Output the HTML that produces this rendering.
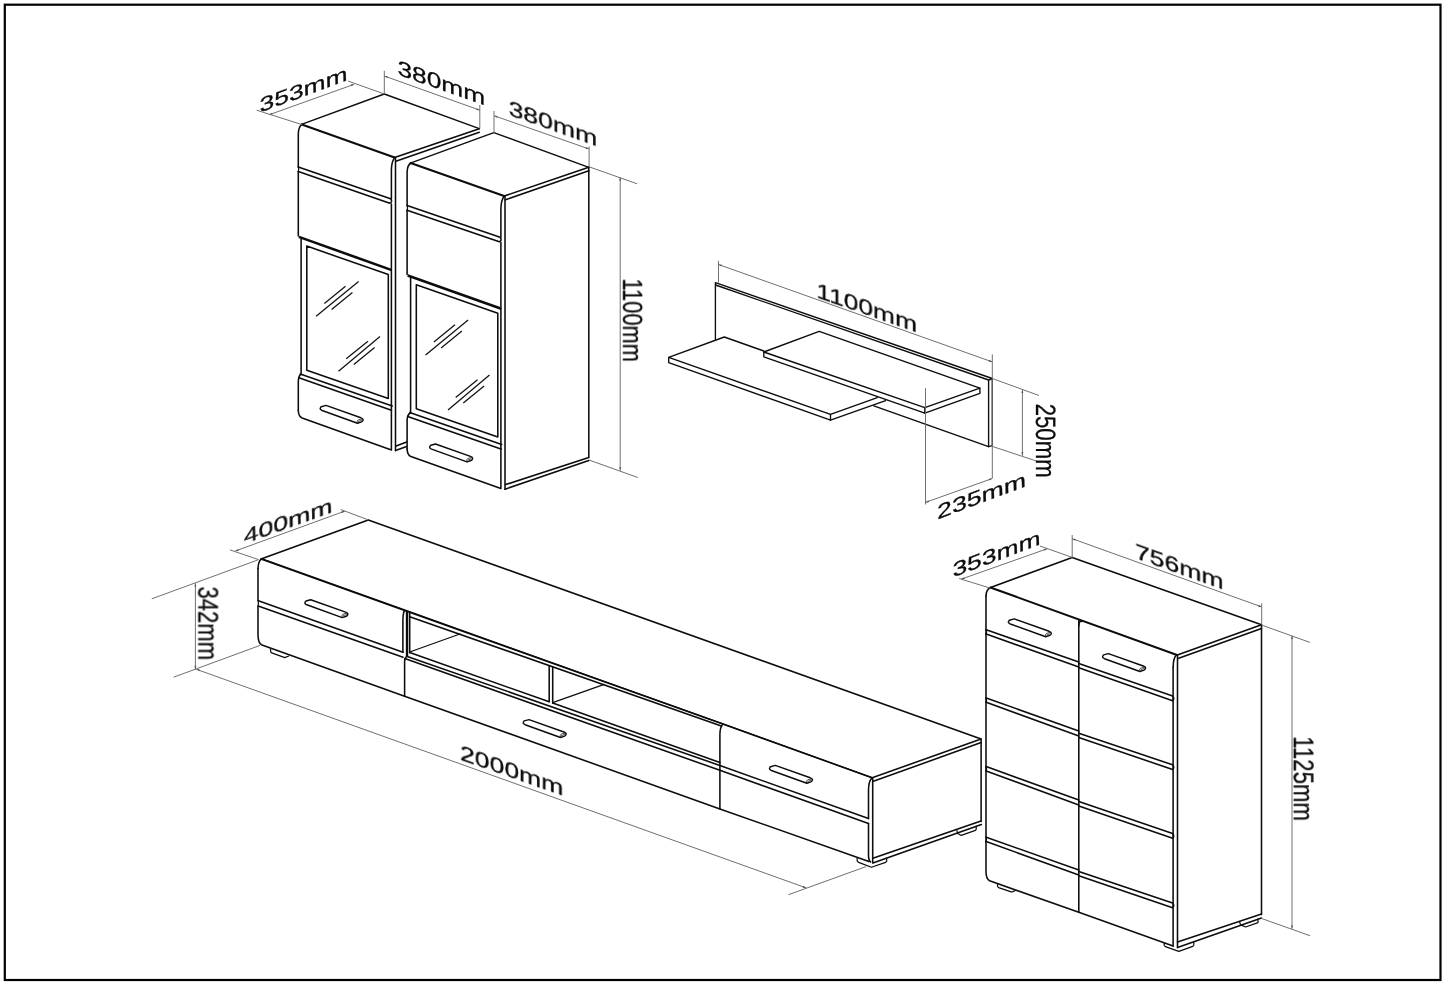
<!DOCTYPE html>
<html lang="en">
<head>
<meta charset="utf-8">
<title>Furniture set dimensions</title>
<style>
html,body{margin:0;padding:0;background:#fff;}
body{width:1445px;height:985px;overflow:hidden;}
svg{display:block;}
.m{fill:none;stroke:#0c0c0c;stroke-width:1.55;stroke-linecap:round;stroke-linejoin:round;}
.k2{fill:none;stroke:#0c0c0c;stroke-width:2.6;stroke-linecap:butt;}
.k{fill:none;stroke:#0c0c0c;stroke-width:2.1;stroke-linecap:round;}
.n{fill:none;stroke:#0c0c0c;stroke-width:1.4;stroke-linecap:round;stroke-linejoin:round;}
.sh .m{stroke-width:1.35;}
.t{fill:none;stroke:#0c0c0c;stroke-width:1.25;stroke-linecap:round;}
.h{fill:#fff;stroke:#0c0c0c;stroke-width:1.45;stroke-linejoin:round;stroke-linecap:round;}
.h2{fill:none;stroke:#222;stroke-width:0.8;stroke-linejoin:round;stroke-linecap:round;}
.ft{fill:none;stroke:#0c0c0c;stroke-width:1.2;stroke-linejoin:round;stroke-linecap:round;}
.g{fill:none;stroke:#111;stroke-width:1.25;stroke-linecap:butt;}
.d{fill:none;stroke:#707070;stroke-width:1.0;}
.a{fill:#555;stroke:none;}
.w{fill:#fff;stroke:none;}
.fr{fill:none;stroke:#000;stroke-width:2.2;}
text{font-family:"Liberation Sans",Arial,Helvetica,sans-serif;font-size:20px;fill:#0a0a0a;stroke:#0a0a0a;stroke-width:0.15;stroke-linejoin:round;text-rendering:geometricPrecision;}
text.s{stroke-width:0.26;}
text.v{stroke-width:0.2;}
.lb{opacity:0.99;}
</style>
</head>
<body>
<svg width="1445" height="985" viewBox="0 0 1445 985">
<rect x="0" y="0" width="1445" height="985" fill="#ffffff"/>
<rect class="fr" x="4.8" y="4.7" width="1435.7" height="975.3"/>
<polyline class="n" points="302.2,124.2 384.3,94 479.3,128.7"/>
<line class="k" x1="301.8" y1="124.4" x2="394.6" y2="157.5"/>
<path class="m" d="M302.2,124.4 Q298.6,126.2 298.3,133.5 L298.3,166.9"/>
<path class="t" d="M298.3,166.9 Q299.2,169.3 298.3,171.6"/>
<line class="m" x1="298.3" y1="171.6" x2="298.3" y2="236"/>
<path class="m" d="M394.3,158.1 Q391.7,161.6 391.4,169.5 L391.4,198.72"/>
<line class="m" x1="391.4" y1="204.02" x2="391.4" y2="268.42"/>
<line class="m" x1="394.6" y1="157.5" x2="479.3" y2="128.7"/>
<line class="m" x1="395.9" y1="161.2" x2="479.3" y2="132.2"/>
<line class="m" x1="395.5" y1="158" x2="395.5" y2="450.6"/>
<path class="m" d="M298.3,166.9 L390.6,198.74 Q393,201.82 389.8,203.17 L298.3,171.6"/>
<line class="k2" x1="298.9" y1="236.9" x2="391.8" y2="270.1"/>
<line class="m" x1="301.1" y1="238.6" x2="301.1" y2="374.6"/>
<line class="m" x1="391.4" y1="270" x2="391.4" y2="410.3"/>
<polygon class="m" points="306.8,246.1 388.3,274.6 388.3,398.4 306.8,370.2"/>
<line class="m" x1="300.2" y1="374" x2="392.2" y2="406"/>
<path class="m" d="M300.6,374.4 Q298.5,376.4 298.3,381.5 L298.3,410.5"/>
<path class="m" d="M298.9,377.8 L391.4,410.3"/>
<path class="m" d="M298.3,410.5 Q298.5,416.4 302.1,418 L391.4,450 L391.4,410.3"/>
<g transform="translate(0 0)">
<path class="h" d="M321.3,406.7 L326,405.4 L360.9,417.8 Q363.5,418.9 363.1,420 Q362.9,421.4 361.6,421.9 L357.5,423.3 L322.1,410.5 Q319.4,409.4 320.5,407.6 Q320.8,407 321.3,406.7 Z"/>
<path class="h2" d="M357.5,423.3 Q356.6,420.4 358.2,419.9 L362.6,418.7"/>
<path class="h2" d="M358.6,421.4 L361.6,420.3"/>
</g>
<line class="g" x1="324.4" y1="303.4" x2="345.5" y2="286.2"/>
<line class="g" x1="316.1" y1="316.3" x2="358.6" y2="281.4"/>
<line class="g" x1="331.6" y1="309.4" x2="352.4" y2="292.4"/>
<line class="g" x1="346.2" y1="358.8" x2="368" y2="341.2"/>
<line class="g" x1="338.5" y1="371.3" x2="380" y2="336.4"/>
<line class="g" x1="353.8" y1="364.4" x2="374.6" y2="347.4"/>
<line class="m" x1="395.5" y1="450.6" x2="408" y2="446"/>
<line class="m" x1="396.1" y1="446" x2="408" y2="441.6"/>
<g transform="translate(109.5 38.6)">
<polygon class="w" points="297.6,126 301.5,124.2 384.3,94 479.3,128.7 479.3,422 395.5,450.6 297.6,417"/>
<polyline class="n" points="301.5,124.2 384.3,94 479.3,128.7"/>
<line class="k" x1="301.1" y1="124.4" x2="394.6" y2="157.5"/>
<path class="m" d="M301.5,124.4 Q297.9,126.2 297.6,133.5 L297.6,166.9"/>
<path class="t" d="M297.6,166.9 Q298.5,169.3 297.6,171.6"/>
<line class="m" x1="297.6" y1="171.6" x2="297.6" y2="236"/>
<path class="m" d="M394.3,158.1 Q391.7,161.6 391.4,169.5 L391.4,198.72"/>
<line class="m" x1="391.4" y1="204.02" x2="391.4" y2="268.42"/>
<line class="m" x1="394.6" y1="157.5" x2="479.3" y2="128.7"/>
<line class="m" x1="395.9" y1="161.2" x2="479.3" y2="132.2"/>
<line class="m" x1="395.5" y1="158" x2="395.5" y2="450.6"/>
<path class="m" d="M297.6,166.9 L390.6,198.74 Q393,201.82 389.8,203.17 L297.6,171.6"/>
<line class="k2" x1="298.2" y1="236.9" x2="391.8" y2="270.1"/>
<line class="m" x1="301.1" y1="238.6" x2="301.1" y2="374.6"/>
<line class="m" x1="391.4" y1="270" x2="391.4" y2="410.3"/>
<polygon class="m" points="306.8,246.1 388.3,274.6 388.3,398.4 306.8,370.2"/>
<line class="m" x1="300.2" y1="374" x2="392.2" y2="406"/>
<path class="m" d="M300.6,374.4 Q297.8,376.4 297.6,381.5 L297.6,410.5"/>
<path class="m" d="M298.2,377.8 L391.4,410.3"/>
<path class="m" d="M297.6,410.5 Q297.8,416.4 301.4,418 L391.4,450 L391.4,410.3"/>
<g transform="translate(0 0)">
<path class="h" d="M321.3,406.7 L326,405.4 L360.9,417.8 Q363.5,418.9 363.1,420 Q362.9,421.4 361.6,421.9 L357.5,423.3 L322.1,410.5 Q319.4,409.4 320.5,407.6 Q320.8,407 321.3,406.7 Z"/>
<path class="h2" d="M357.5,423.3 Q356.6,420.4 358.2,419.9 L362.6,418.7"/>
<path class="h2" d="M358.6,421.4 L361.6,420.3"/>
</g>
<line class="g" x1="324.4" y1="303.4" x2="345.5" y2="286.2"/>
<line class="g" x1="316.1" y1="316.3" x2="358.6" y2="281.4"/>
<line class="g" x1="331.6" y1="309.4" x2="352.4" y2="292.4"/>
<line class="g" x1="346.2" y1="358.8" x2="368" y2="341.2"/>
<line class="g" x1="338.5" y1="371.3" x2="380" y2="336.4"/>
<line class="g" x1="353.8" y1="364.4" x2="374.6" y2="347.4"/>
<line class="m" x1="479.3" y1="128.7" x2="479.3" y2="418.4"/>
<line class="m" x1="395.5" y1="450.6" x2="479.3" y2="422"/>
<line class="m" x1="396.1" y1="446" x2="479.3" y2="418.8"/>
</g>
<g class="sh">
<polyline class="m" points="715.4,339.6 715.4,282.6 992.3,378.5 992.3,445.6 988.6,446.6"/>
<polyline class="m" points="715.6,285 988.6,380 988.6,446.6"/>
<line class="m" x1="988.6" y1="380" x2="992.3" y2="378.5"/>
<line class="m" x1="988.6" y1="446.6" x2="873.8" y2="405.8"/>
<polygon class="m" points="763.8,352 819.2,331.4 979.9,388.2 924.8,407.6"/>
<polyline class="m" points="763.8,352 763.8,356.8 924.8,413.2 924.8,407.6"/>
<polyline class="m" points="924.8,413.2 979.9,393.4 979.9,388.2"/>
<polyline class="m" points="763.8,351 724.3,337 668.7,357.3 830.5,414.4 877.3,397.6"/>
<polyline class="m" points="668.7,357.3 668.7,362.6 830.5,420.2 830.5,414.4"/>
<line class="m" x1="830.5" y1="420.2" x2="885.6" y2="400.6"/>
</g>
<polyline class="m" points="261,559.1 368.3,519.9 981.1,739 872.9,777.5"/>
<line class="m" x1="873.4" y1="781.3" x2="981.1" y2="742.6"/>
<line class="m" x1="981.1" y1="739" x2="981.1" y2="821.4"/>
<line class="m" x1="872.9" y1="862.9" x2="981.4" y2="824.6"/>
<line class="m" x1="872.9" y1="858.3" x2="981" y2="821"/>
<polyline class="m" points="261,559.1 404.6,610.5 721.5,723.6 872,777.7"/>
<polyline class="t" points="261.6,558.6 404.6,609.9 721.5,723.3 872,777.6"/>
<path class="m" d="M258,568.6 Q258.2,561.6 261,559.3"/>
<path class="m" d="M258,568.6 L258,600.4 M258,606.4 L258,635.2 Q258.2,642.6 261.3,644.7 L404.6,696.2 L719.9,808.9 L868.9,861.6"/>
<path class="t" d="M258,600.4 Q259,603.2 258,606.4"/>
<line class="m" x1="258.4" y1="600.8" x2="403" y2="652.2"/>
<line class="m" x1="258.2" y1="606.1" x2="403" y2="657.2"/>
<path class="m" d="M404.4,610.6 Q402.9,613.6 402.9,621 L402.9,652.2"/>
<line class="m" x1="406.6" y1="611.4" x2="406.6" y2="656"/>
<line class="t" x1="407.6" y1="611.8" x2="407.6" y2="656.4"/>
<line class="m" x1="409.7" y1="613" x2="409.7" y2="652.6"/>
<line class="m" x1="409.7" y1="616.7" x2="720.6" y2="725.8"/>
<line class="m" x1="409.7" y1="652.6" x2="549.2" y2="701.8"/>
<line class="m" x1="552.7" y1="703" x2="719.9" y2="762.4"/>
<line class="m" x1="549.2" y1="665.8" x2="549.2" y2="701.8"/>
<line class="m" x1="552.7" y1="667" x2="552.7" y2="703"/>
<line class="t" x1="409.7" y1="652" x2="459.9" y2="634"/>
<line class="t" x1="552.7" y1="702.6" x2="604.2" y2="684.4"/>
<path class="m" d="M404.6,696.2 L404.6,661.6 Q404.6,658.6 406.6,656.2 L719.9,765.5"/>
<line class="m" x1="404.8" y1="658.6" x2="719.9" y2="770.3"/>
<path class="m" d="M722.6,724.4 Q719.9,727.4 719.9,734.5 L719.9,808.9"/>
<path class="m" d="M871.6,778.2 Q868.5,781.6 868.5,790.5 L868.5,818.6 M868.5,823.4 L868.5,855.6 Q868.7,860.6 870.6,862"/>
<line class="m" x1="872.7" y1="777.8" x2="872.7" y2="862.8"/>
<line class="m" x1="719.9" y1="765.5" x2="868.5" y2="818.6"/>
<line class="m" x1="719.9" y1="770.3" x2="868.5" y2="823.4"/>
<g transform="translate(-15.3 194.3)">
<path class="h" d="M321.3,406.7 L326,405.4 L360.9,417.8 Q363.5,418.9 363.1,420 Q362.9,421.4 361.6,421.9 L357.5,423.3 L322.1,410.5 Q319.4,409.4 320.5,407.6 Q320.8,407 321.3,406.7 Z"/>
<path class="h2" d="M357.5,423.3 Q356.6,420.4 358.2,419.9 L362.6,418.7"/>
<path class="h2" d="M358.6,421.4 L361.6,420.3"/>
</g>
<g transform="translate(203 314.2)">
<path class="h" d="M321.3,406.7 L326,405.4 L360.9,417.8 Q363.5,418.9 363.1,420 Q362.9,421.4 361.6,421.9 L357.5,423.3 L322.1,410.5 Q319.4,409.4 320.5,407.6 Q320.8,407 321.3,406.7 Z"/>
<path class="h2" d="M357.5,423.3 Q356.6,420.4 358.2,419.9 L362.6,418.7"/>
<path class="h2" d="M358.6,421.4 L361.6,420.3"/>
</g>
<g transform="translate(449.3 360)">
<path class="h" d="M321.3,406.7 L326,405.4 L360.9,417.8 Q363.5,418.9 363.1,420 Q362.9,421.4 361.6,421.9 L357.5,423.3 L322.1,410.5 Q319.4,409.4 320.5,407.6 Q320.8,407 321.3,406.7 Z"/>
<path class="h2" d="M357.5,423.3 Q356.6,420.4 358.2,419.9 L362.6,418.7"/>
<path class="h2" d="M358.6,421.4 L361.6,420.3"/>
</g>
<path class="ft" d="M270.4,649 L271,652.6 L284.8,657.6 L288.8,656"/>
<path class="ft" d="M857.1,858 L857.2,861 L858.6,862.4 L871.5,867.3 L885.6,862.4 L886.8,861.2 L886.5,858.2"/>
<path class="ft" d="M957,830.6 L957.4,833.2 L961.2,835.4 L975.4,830.4 L976.2,829.4 L976.2,826.4"/>
<polyline class="m" points="990.6,587.4 1072.2,557.4 1261.5,624.8 1177.3,655"/>
<line class="m" x1="1178" y1="658.6" x2="1261.5" y2="628.4"/>
<line class="m" x1="1261.5" y1="624.8" x2="1261.5" y2="914.6"/>
<line class="m" x1="1177.5" y1="947.4" x2="1261.5" y2="918"/>
<line class="m" x1="1177.5" y1="942" x2="1261.5" y2="914"/>
<path class="m" d="M986.0,596 Q986.1,589.6 990.4,587.5"/>
<line class="k" x1="990.4" y1="587.5" x2="1177" y2="654.9"/>
<path class="m" d="M1176.2,655.2 Q1173.2,658.4 1173.2,667"/>
<path class="m" d="M986.0,596 L986.0,872.0 Q986.2,879.2 989.6,880.8 L1078.8,912.3 L1173.1,946.0"/>
<line class="m" x1="1078.8" y1="619.4" x2="1078.8" y2="912.3"/>
<path class="m" d="M1078.8,626 Q1078.8,620.6 1082,621.4"/>
<line class="m" x1="1173.1" y1="667" x2="1173.1" y2="946"/>
<line class="m" x1="1177.5" y1="655.6" x2="1177.5" y2="947.4"/>
<line class="m" x1="986.2" y1="629.8" x2="1078.8" y2="662"/>
<line class="m" x1="986.2" y1="634.1" x2="1078.8" y2="667"/>
<path class="t" d="M986.0,629.8 Q987.2,632 986.0,634.1"/>
<line class="m" x1="986.2" y1="698" x2="1078.8" y2="730.9"/>
<line class="m" x1="986.2" y1="702.3" x2="1078.8" y2="735.9"/>
<path class="t" d="M986.0,698 Q987.2,700.2 986.0,702.3"/>
<line class="m" x1="986.2" y1="766.6" x2="1078.8" y2="800"/>
<line class="m" x1="986.2" y1="770.9" x2="1078.8" y2="805"/>
<path class="t" d="M986.0,766.6 Q987.2,768.8 986.0,770.9"/>
<line class="m" x1="986.2" y1="837.3" x2="1078.8" y2="869.9"/>
<line class="m" x1="986.2" y1="841.6" x2="1078.8" y2="874.9"/>
<path class="t" d="M986.0,837.3 Q987.2,839.5 986.0,841.6"/>
<path class="m" d="M1078.8,663.4 L1172.6,696 Q1174.8,698.6 1172.6,700.7 L1078.8,667.8"/>
<path class="m" d="M1078.8,733.2 L1172.6,764.8 Q1174.8,767.4 1172.6,769.5 L1078.8,737.6"/>
<path class="m" d="M1078.8,801.6 L1172.6,833.6 Q1174.8,836.2 1172.6,838.3 L1078.8,806"/>
<path class="m" d="M1078.8,871.4 L1172.6,903 Q1174.8,905.6 1172.6,907.7 L1078.8,875.8"/>
<g transform="translate(688.2 213.5)">
<path class="h" d="M321.3,406.7 L326,405.4 L360.9,417.8 Q363.5,418.9 363.1,420 Q362.9,421.4 361.6,421.9 L357.5,423.3 L322.1,410.5 Q319.4,409.4 320.5,407.6 Q320.8,407 321.3,406.7 Z"/>
<path class="h2" d="M357.5,423.3 Q356.6,420.4 358.2,419.9 L362.6,418.7"/>
<path class="h2" d="M358.6,421.4 L361.6,420.3"/>
</g>
<g transform="translate(782.4 248.2)">
<path class="h" d="M321.3,406.7 L326,405.4 L360.9,417.8 Q363.5,418.9 363.1,420 Q362.9,421.4 361.6,421.9 L357.5,423.3 L322.1,410.5 Q319.4,409.4 320.5,407.6 Q320.8,407 321.3,406.7 Z"/>
<path class="h2" d="M357.5,423.3 Q356.6,420.4 358.2,419.9 L362.6,418.7"/>
<path class="h2" d="M358.6,421.4 L361.6,420.3"/>
</g>
<path class="ft" d="M997.6,884.2 L997.5,886.4 L998.6,887.6 L1011.2,891.9 L1012.6,891.8 L1015,890.6"/>
<path class="ft" d="M1164.2,943.2 L1164.2,945.4 L1165.4,946.6 L1178.8,951.4 L1192.8,946.4 L1193.8,945.2 L1193.8,942.2"/>
<path class="ft" d="M1239.6,921.6 L1240.4,924.6 L1245.6,927 L1258,922.6 L1258,919.2"/>
<line class="d" x1="269" y1="114.8" x2="354.2" y2="84.3"/>
<polygon class="a" points="269,114.8 272.52,114.55 271.88,112.76"/>
<polygon class="a" points="354.2,84.3 350.68,84.55 351.32,86.34"/>
<line class="d" x1="256.6" y1="110.2" x2="302.3" y2="124.7"/>
<line class="d" x1="348" y1="81" x2="384.3" y2="94"/>
<line class="d" x1="384.3" y1="70.8" x2="384.3" y2="94"/>
<line class="d" x1="479.8" y1="105" x2="479.8" y2="128.5"/>
<line class="d" x1="384.3" y1="76" x2="479.8" y2="110.2"/>
<polygon class="a" points="384.3,76 387.18,78.04 387.82,76.25"/>
<polygon class="a" points="479.8,110.2 476.92,108.16 476.28,109.95"/>
<line class="d" x1="494" y1="111" x2="494" y2="133.6"/>
<line class="d" x1="589.1" y1="146.4" x2="589.1" y2="166.8"/>
<line class="d" x1="494" y1="115.7" x2="589.1" y2="149"/>
<polygon class="a" points="494,115.7 496.9,117.72 497.52,115.93"/>
<polygon class="a" points="589.1,149 586.2,146.98 585.58,148.77"/>
<line class="d" x1="620.2" y1="177.2" x2="620.2" y2="470.6"/>
<polygon class="a" points="620.2,177.2 619.25,180.6 621.15,180.6"/>
<polygon class="a" points="620.2,470.6 621.15,467.2 619.25,467.2"/>
<line class="d" x1="589" y1="166.8" x2="637.2" y2="183.8"/>
<line class="d" x1="589" y1="460" x2="637.8" y2="477.5"/>
<line class="d" x1="718.5" y1="260.8" x2="718.5" y2="282.6"/>
<line class="d" x1="992.3" y1="354.4" x2="992.3" y2="478.5"/>
<line class="d" x1="718.5" y1="264.5" x2="992.3" y2="361.9"/>
<polygon class="a" points="718.5,264.5 721.38,266.53 722.02,264.74"/>
<polygon class="a" points="992.3,361.9 989.42,359.87 988.78,361.66"/>
<line class="d" x1="925.5" y1="388.2" x2="925.5" y2="504.5"/>
<line class="d" x1="925.5" y1="502.4" x2="992.3" y2="478.5"/>
<polygon class="a" points="925.5,502.4 929.02,502.15 928.38,500.36"/>
<polygon class="a" points="992.3,478.5 988.78,478.75 989.42,480.54"/>
<line class="d" x1="1022.4" y1="389.7" x2="1022.4" y2="455.7"/>
<polygon class="a" points="1022.4,389.7 1021.45,393.1 1023.35,393.1"/>
<polygon class="a" points="1022.4,455.7 1023.35,452.3 1021.45,452.3"/>
<line class="d" x1="992.3" y1="378.5" x2="1039" y2="395.5"/>
<line class="d" x1="992.3" y1="446.4" x2="1039" y2="461.9"/>
<line class="d" x1="235.3" y1="551" x2="344.9" y2="511.1"/>
<polygon class="a" points="235.3,551 238.82,550.73 238.17,548.94"/>
<polygon class="a" points="344.9,511.1 341.38,511.37 342.03,513.16"/>
<line class="d" x1="230" y1="549.9" x2="258.8" y2="559.7"/>
<line class="d" x1="340.7" y1="509.5" x2="368.3" y2="519.9"/>
<line class="d" x1="195.4" y1="583.2" x2="195.4" y2="669.3"/>
<polygon class="a" points="195.4,583.2 194.45,586.6 196.35,586.6"/>
<polygon class="a" points="195.4,669.3 196.35,665.9 194.45,665.9"/>
<line class="d" x1="257.7" y1="560" x2="151.8" y2="598.8"/>
<line class="d" x1="260" y1="645.4" x2="173.6" y2="677.2"/>
<line class="d" x1="196.4" y1="669.3" x2="806.2" y2="887.9"/>
<polygon class="a" points="196.4,669.3 199.28,671.34 199.92,669.55"/>
<polygon class="a" points="806.2,887.9 803.32,885.86 802.68,887.65"/>
<line class="d" x1="866" y1="866.6" x2="788.5" y2="894.7"/>
<line class="d" x1="961.1" y1="579.2" x2="1047.3" y2="548.7"/>
<polygon class="a" points="961.1,579.2 964.62,578.96 963.99,577.17"/>
<polygon class="a" points="1047.3,548.7 1043.78,548.94 1044.41,550.73"/>
<line class="d" x1="959.1" y1="578.5" x2="990.2" y2="588.1"/>
<line class="d" x1="1040" y1="546" x2="1072.2" y2="557.4"/>
<line class="d" x1="1072.2" y1="535" x2="1072.2" y2="557.4"/>
<line class="d" x1="1261.7" y1="603.3" x2="1261.7" y2="624.7"/>
<line class="d" x1="1072.2" y1="538.7" x2="1261.7" y2="606.9"/>
<polygon class="a" points="1072.2,538.7 1075.08,540.75 1075.72,538.96"/>
<polygon class="a" points="1261.7,606.9 1258.82,604.85 1258.18,606.64"/>
<line class="d" x1="1292" y1="635.7" x2="1292" y2="928.8"/>
<polygon class="a" points="1292,635.7 1291.05,639.1 1292.95,639.1"/>
<polygon class="a" points="1292,928.8 1292.95,925.4 1291.05,925.4"/>
<line class="d" x1="1261.7" y1="625.1" x2="1309.9" y2="642.4"/>
<line class="d" x1="1261.3" y1="918.4" x2="1310" y2="935.7"/>
<g class="lb">
<text class="s" transform="matrix(1.3163 -0.4899 0.0290 1.0145 259.85 112.79)">353mm</text>
<text class="s" transform="matrix(1.3147 0.4682 -0.0036 1.0580 397.45 74.43)">380mm</text>
<text class="s" transform="matrix(1.3302 0.4729 -0.0036 1.0580 508.54 114.82)">380mm</text>
<text class="v" transform="matrix(0.0000 1.0912 -1.3841 0.0000 623.20 278.56)">1100mm</text>
<text class="s" transform="matrix(1.3211 0.4626 -0.0036 1.0580 816.22 297.11)">1100mm</text>
<text class="v" transform="matrix(0.0000 1.1089 -1.3986 0.0000 1036.30 403.69)">250mm</text>
<text class="s" transform="matrix(1.3313 -0.4977 0.0290 1.0145 937.37 519.40)">235mm</text>
<text class="s" transform="matrix(1.3318 -0.4815 0.0290 1.0145 243.83 544.34)">400mm</text>
<text class="v" transform="matrix(0.0000 1.1008 -1.4130 0.0000 198.00 586.62)">342mm</text>
<text class="s" transform="matrix(1.3285 0.4662 -0.0036 1.0580 459.97 759.53)">2000mm</text>
<text class="s" transform="matrix(1.3194 -0.5008 0.0290 1.0145 952.64 577.60)">353mm</text>
<text class="s" transform="matrix(1.3297 0.4759 -0.0036 1.0580 1134.97 557.92)">756mm</text>
<text class="v" transform="matrix(0.0000 1.1075 -1.4130 0.0000 1293.40 736.34)">1125mm</text>
</g>
</svg>
</body>
</html>
